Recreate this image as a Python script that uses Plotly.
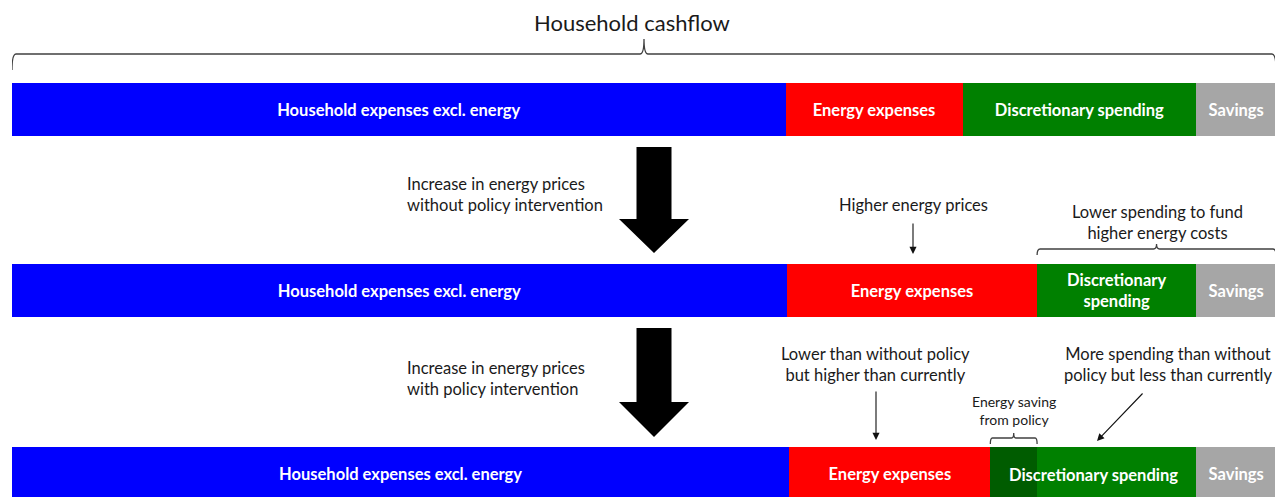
import plotly.graph_objects as go

# ---------------- data (shares of household cashflow, %) ----------------
scenarios = ["Current", "Without policy", "With policy"]
categories = ["Household expenses excl. energy", "Energy expenses",
              "Energy saving from policy", "Discretionary spending", "Savings"]
household_expenses = [61.2, 61.3, 61.5]
energy_expenses = [14.0, 19.8, 15.9]
energy_saving = [0.0, 0.0, 3.7]
discretionary = [18.5, 12.6, 12.6]
savings = [6.3, 6.3, 6.3]

labels_expenses = ["Household expenses excl. energy"] * 3
labels_energy = ["Energy expenses"] * 3
labels_saving = ["", "", ""]
labels_discretionary = ["Discretionary spending", "Discretionary<br>spending", ""]
labels_savings = ["Savings"] * 3

colors = ["#0000FF", "#FF0000", "#005C00", "#008000", "#A6A6A6"]

# ---------------- layout constants (page pixel frame) ----------------
W, H = 1283, 497
OFF = 8                       # default body margin of the html page
BAR_L, BAR_R = 12, 1276       # page x of bar ends
ROW_Y = [109.5, 290.5, 473.5]  # bar centres (page px from top)
BAR_H = 53
FONT = "Lato"
TXT = "#1a1a1a"
BAR_FS = 16.5
NOTE_FS = 16.5


def X(px):
    """page pixel -> data x (0..100 spans the bars)"""
    return (px - BAR_L) / (BAR_R - BAR_L) * 100


series = [household_expenses, energy_expenses, energy_saving, discretionary, savings]
texts = [labels_expenses, labels_energy, labels_saving, labels_discretionary, labels_savings]

fig = go.Figure()
for name, vals, txt, col in zip(categories, series, texts, colors):
    fig.add_trace(go.Bar(
        orientation="h", y=ROW_Y, x=vals, name=name, width=BAR_H,
        marker=dict(color=col, line=dict(width=0)),
        text=txt, textposition="inside", insidetextanchor="middle",
        constraintext="none", cliponaxis=True,
        textfont=dict(family=FONT, size=BAR_FS, color="white", weight="bold"),
        hoverinfo="skip",
    ))


def starts(i):
    s, out = 0, []
    for v in series:
        out.append(s)
        s += v[i]
    return out

s2 = starts(1)
s3 = starts(2)

annotations = []
x_mid3 = s3[2] + (energy_saving[2] + discretionary[2]) / 2
annotations.append(dict(x=x_mid3, y=ROW_Y[2] + 1, text="Discretionary spending",
                        showarrow=False,
                        font=dict(family=FONT, size=BAR_FS, color="white", weight="bold")))


def note(px, py, text, size=NOTE_FS, align="center", xanchor="center"):
    annotations.append(dict(x=X(px), y=py, text=text, showarrow=False, align=align,
                            xanchor=xanchor, yanchor="middle",
                            font=dict(family=FONT, size=size, color=TXT)))

note(632, 22, "Household cashflow", size=22)
note(405, 194, "Increase in energy prices<br>without policy intervention", align="left", xanchor="left")
note(405, 378, "Increase in energy prices<br>with policy intervention", align="left", xanchor="left")
note(913, 205, "Higher energy prices")
note(1157, 222, "Lower spending to fund<br>higher energy costs")
note(875, 364, "Lower than without policy<br>but higher than currently")
note(1168, 364, "More spending than without<br>policy but less than currently")
note(1014, 410, "Energy saving<br>from policy", size=14)


def thin_arrow(x0, y0, x1, y1):
    annotations.append(dict(x=X(x1), y=y1, ax=X(x0), ay=y0, axref="x", ayref="y",
                            xref="x", yref="y", text="", showarrow=True,
                            arrowhead=2, arrowsize=1.3, arrowwidth=1.1, arrowcolor="#111"))

thin_arrow(913, 222, 913, 254)
thin_arrow(876, 390, 876, 440)
thin_arrow(1144, 392, 1097, 441)

shapes = []


def brace(x0, x1, y_end, y_line, y_tip, r=4):
    xm = (x0 + x1) / 2
    dx = X(BAR_L + r) - X(BAR_L)
    d = (f"M {x0},{y_end} Q {x0},{y_line} {x0 + dx},{y_line} "
         f"L {xm - dx},{y_line} Q {xm},{y_line} {xm},{y_tip} "
         f"Q {xm},{y_line} {xm + dx},{y_line} "
         f"L {x1 - dx},{y_line} Q {x1},{y_line} {x1},{y_end}")
    shapes.append(dict(type="path", path=d, xref="x", yref="y",
                       line=dict(color="#404040", width=1.3)))

brace(0, 100, 70, 54, 39)
brace(s2[3], 100, 255, 249, 244, r=3)
brace(s3[2], s3[3], 444, 438, 433, r=2)


def block_arrow(top, head, tip, cx=654, shaft=17.5, half=35):
    pts = [(cx - shaft, top), (cx + shaft, top), (cx + shaft, head), (cx + half, head),
           (cx, tip), (cx - half, head), (cx - shaft, head)]
    d = "M " + " L ".join(f"{X(px)},{py}" for px, py in pts) + " Z"
    shapes.append(dict(type="path", path=d, xref="x", yref="y",
                       fillcolor="black", line=dict(width=0)))

block_arrow(147, 219, 253)
block_arrow(328, 402, 437)

fig.update_layout(
    width=W, height=H, barmode="stack", showlegend=False,
    margin=dict(l=BAR_L - OFF, r=W + OFF - BAR_R, t=0, b=0),
    plot_bgcolor="white", paper_bgcolor="white",
    xaxis=dict(range=[0, 100], visible=False, fixedrange=True),
    yaxis=dict(range=[H + OFF, OFF], visible=False, fixedrange=True),
    annotations=annotations, shapes=shapes,
    font=dict(family=FONT),
)

fig.write_html("out.html")
